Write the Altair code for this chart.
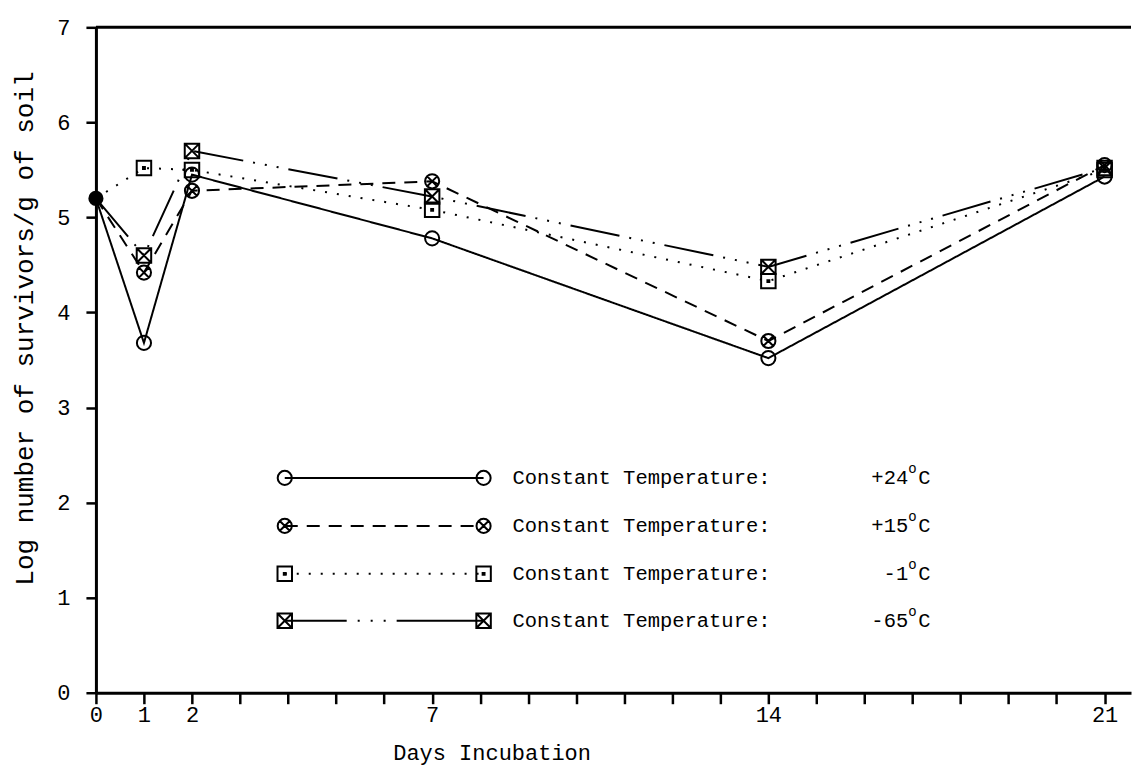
import altair as alt
import pandas as pd

# ---------------- data ----------------
days = [0, 1, 2, 7, 14, 21]
series = ["+24", "+15", "-1", "-65"]
v_p24 = [5.2, 3.68, 5.45, 4.78, 3.52, 5.43]
v_p15 = [5.2, 4.42, 5.28, 5.38, 3.70, 5.55]
v_m1 = [5.2, 5.52, 5.50, 5.08, 4.33, 5.50]
v_m65 = [5.2, 4.60, 5.70, 5.22, 4.48, 5.52]
x_tick_values = list(range(22))
x_label_values = [0, 1, 2, 7, 14, 21]
y_tick_values = list(range(8))
legend_prefix = "Constant Temperature:"
x_title = "Days Incubation"
y_title = "Log number of survivors/g of soil"

FONT = "Liberation Mono"

# ---------------- styles ----------------
P_CIRCLE = "M1,0A1,1,0,1,1,-1,0A1,1,0,1,1,1,0Z"
P_CIRCLE_X = P_CIRCLE + "M-0.7,-0.7L0.7,0.7M-0.7,0.7L0.7,-0.7"
P_SQUARE_DOT = "M-1,-1H1V1H-1ZM-0.13,-0.13H0.13V0.13H-0.13Z"
P_SQUARE_X = "M-1,-1H1V1H-1ZM-1,-1L1,1M-1,1L1,-1"

styles = {
    "+24": dict(shape=P_CIRCLE, dash=[1, 0], leg_dash=[1, 0], size=200),
    "+15": dict(shape=P_CIRCLE_X, dash=[13, 9], leg_dash=[13, 9], size=200),
    "-1": dict(shape=P_SQUARE_DOT, dash=[2, 10], leg_dash=[2, 10], size=210),
    "-65": dict(shape=P_SQUARE_X, dash=[50, 10, 2, 10, 2, 10, 2, 10],
                leg_dash=[62, 11, 2, 11, 2, 11, 2, 11, 400, 1], size=210),
}

rows = []
for s, vals in zip(series, [v_p24, v_p15, v_m1, v_m65]):
    for d, v in zip(days, vals):
        rows.append({"series": s, "day": d, "value": v})
df = pd.DataFrame(rows)

PLOT_W, PLOT_H = 1036, 666

xscale = alt.Scale(domain=[0, 21.55], nice=False, zero=False)
yscale = alt.Scale(domain=[0, 7], nice=False, zero=True)

label_list = ",".join(str(v) for v in x_label_values)
x_axis = alt.Axis(
    values=x_tick_values, format="d",
    labelExpr=f"indexof([{label_list}], datum.value) >= 0 ? datum.label : ''",
    labelOverlap=False, labelFlush=False, grid=False,
    tickSize=11, tickWidth=2.5, tickColor="black",
    domainWidth=3, domainColor="black",
    labelFont=FONT, labelFontSize=22, labelColor="black", labelPadding=1,
    title=x_title, titleFont=FONT, titleFontSize=22, titleFontWeight="normal",
    titleColor="black", titleX=396, titleY=60, titleAlign="center",
    titleBaseline="middle",
)
y_axis = alt.Axis(
    values=y_tick_values, format="d", labelOverlap=False, labelFlush=False, grid=False,
    tickSize=10, tickWidth=2.5, tickColor="black",
    domainWidth=3, domainColor="black",
    labelFont=FONT, labelFontSize=22, labelColor="black", labelPadding=16,
    title=y_title, titleFont=FONT, titleFontSize=26, titleFontWeight="normal",
    titleColor="black", titleAngle=-90, titleX=-71, titleY=301,
    titleAlign="center", titleBaseline="middle",
)

base = alt.Chart(df)
layers = []

# axes carrier (invisible)
layers.append(
    base.mark_point(opacity=0).encode(
        x=alt.X("day:Q", scale=xscale, axis=x_axis),
        y=alt.Y("value:Q", scale=yscale, axis=y_axis),
    )
)

# top frame line
layers.append(
    alt.Chart(pd.DataFrame({"v": [7]})).mark_rule(strokeWidth=3, color="black").encode(
        y=alt.Y("v:Q", scale=yscale)
    )
)

for s in series:
    st = styles[s]
    sub = base.transform_filter(alt.datum.series == s)
    layers.append(
        sub.mark_line(color="black", strokeWidth=2, strokeDash=st["dash"]).encode(
            x=alt.X("day:Q", scale=xscale),
            y=alt.Y("value:Q", scale=yscale),
        )
    )
    layers.append(
        sub.transform_filter(alt.datum.day > 0).mark_point(
            shape=st["shape"], size=st["size"], filled=False, color="black",
            strokeWidth=2, opacity=1,
        ).encode(x=alt.X("day:Q", scale=xscale), y=alt.Y("value:Q", scale=yscale))
    )

# common starting point
layers.append(
    base.transform_filter((alt.datum.day == 0) & (alt.datum.series == series[0]))
    .mark_point(shape="circle", size=230, filled=True, color="black", opacity=1)
    .encode(x=alt.X("day:Q", scale=xscale), y=alt.Y("value:Q", scale=yscale))
)

# ---------------- legend (drawn inside the plot) ----------------
LEG_ROWS_Y = [451, 499, 547, 594]
LEG_X0, LEG_X1 = 189, 388
LEG_TEXT_X = 417
LEG_NUM_RIGHT = 813

for s, ry in zip(series, LEG_ROWS_Y):
    st = styles[s]
    one = alt.Chart(pd.DataFrame({"label": [legend_prefix], "temp": [s]}))
    layers.append(
        one.mark_rule(color="black", strokeWidth=2, strokeDash=st["leg_dash"]).encode(
            x=alt.value(LEG_X0), x2=alt.value(LEG_X1), y=alt.value(ry)
        )
    )
    for xx in (LEG_X0, LEG_X1):
        layers.append(
            one.mark_point(shape=st["shape"], size=st["size"], filled=False,
                           color="black", strokeWidth=2, opacity=1).encode(
                x=alt.value(xx), y=alt.value(ry)
            )
        )
    layers.append(
        one.mark_text(font=FONT, fontSize=20.5, align="left", baseline="middle",
                      color="black").encode(
            x=alt.value(LEG_TEXT_X), y=alt.value(ry), text="label:N"
        )
    )
    layers.append(
        one.mark_text(font=FONT, fontSize=20.5, align="right", baseline="middle",
                      color="black").encode(
            x=alt.value(LEG_NUM_RIGHT), y=alt.value(ry), text="temp:N"
        )
    )
    layers.append(
        one.mark_text(font=FONT, fontSize=14, align="left", baseline="middle",
                      color="black").encode(
            x=alt.value(LEG_NUM_RIGHT), y=alt.value(ry - 9), text=alt.value("o")
        )
    )
    layers.append(
        one.mark_text(font=FONT, fontSize=20.5, align="left", baseline="middle",
                      color="black").encode(
            x=alt.value(LEG_NUM_RIGHT + 10), y=alt.value(ry), text=alt.value("C")
        )
    )

chart = alt.layer(*layers).properties(
    width=PLOT_W, height=PLOT_H,
    padding={"left": 88, "top": 19, "right": 4, "bottom": 74},
    autosize=alt.AutoSizeParams(type="none"),
    background="white",
).configure_view(stroke=None)

chart.save("out.html", embed_options={"renderer": "svg", "actions": False})
